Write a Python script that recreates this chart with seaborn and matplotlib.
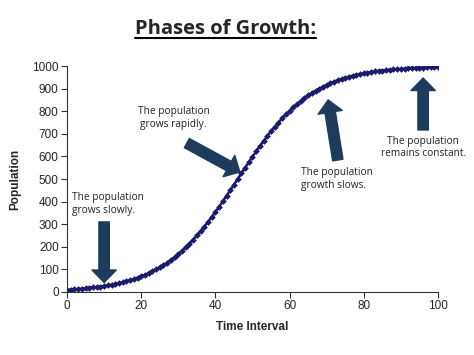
import matplotlib
matplotlib.use("Agg")
import matplotlib.pyplot as plt
import seaborn as sns
from matplotlib.lines import Line2D

# data
time = list(range(0, 101))
population = [
    10, 11, 12, 13, 15, 16, 18, 20, 22, 24,
    27, 29, 32, 36, 39, 43, 47, 52, 57, 63,
    69, 76, 83, 91, 100, 109, 119, 130, 142, 154,
    168, 182, 198, 214, 231, 250, 269, 289, 310, 332,
    354, 377, 401, 426, 450, 475, 500, 525, 550, 574,
    599, 622, 646, 668, 690, 711, 731, 750, 769, 786,
    802, 818, 832, 845, 858, 870, 881, 891, 900, 909,
    917, 924, 931, 937, 943, 948, 953, 957, 961, 964,
    968, 971, 973, 976, 978, 980, 982, 984, 985, 987,
    988, 989, 990, 991, 992, 993, 993, 994, 995, 995, 996,
]

# annotation labels and arrows (start -> tip, data coords)
labels = ["The population\ngrows slowly.", "The population\ngrows rapidly.",
          "The population\ngrowth slows.", "The population\nremains constant."]
label_pos = [(1.3, 442), (28.7, 822), (63, 552), (96, 692)]
label_ha = ["left", "center", "left", "center"]
arrow_start = [(10, 310), (32.3, 659), (73, 584), (96, 717)]
arrow_tip = [(10, 42), (46.6, 531), (70.4, 850), (96, 947)]

sns.set_style("ticks")
plt.rcParams["font.family"] = ["Liberation Sans", "DejaVu Sans"]

fig = plt.figure(figsize=(4.74, 3.55), dpi=100)
ax = fig.add_axes([0.1414, 0.1775, 0.7826, 0.6365])

navy = "#1b1b6b"
sns.lineplot(x=time, y=population, ax=ax, color=navy, marker="D",
             markersize=3.4, markeredgewidth=0, linewidth=1.8)

ax.set_xlim(0, 100)
ax.set_ylim(0, 1000)
ax.set_xticks(range(0, 101, 20))
ax.set_yticks(range(0, 1001, 100))
ax.tick_params(labelsize=8.5, length=4, width=0.8, color="#333333", pad=2)
for s in ["top", "right"]:
    ax.spines[s].set_visible(False)
for s in ["left", "bottom"]:
    ax.spines[s].set_color("#333333")
    ax.spines[s].set_linewidth(0.8)
ax.set_xlabel("Time Interval", fontsize=8.5, fontweight="bold", labelpad=6)
ax.set_ylabel("Population", fontsize=8.5, fontweight="bold", labelpad=8)

arrow_col = "#1f3b5c"
for s, t in zip(arrow_start, arrow_tip):
    ax.annotate("", xy=t, xytext=s,
                arrowprops=dict(arrowstyle="simple,head_length=0.9,head_width=1.75,tail_width=0.75",
                                mutation_scale=10, color=arrow_col,
                                shrinkA=0, shrinkB=0),
                annotation_clip=False)

for txt, (x, y), ha in zip(labels, label_pos, label_ha):
    ax.text(x, y, txt, ha=ha, va="top", fontsize=7.3, family="Open Sans",
            color="#222222", linespacing=1.2, clip_on=False)

title = fig.text(0.475, 0.918, "Phases of Growth:", ha="center", va="center",
                 fontsize=14.5, fontweight="bold", family="Open Sans")
fig.canvas.draw()
bb = title.get_window_extent()
fig.add_artist(Line2D([bb.x0 / fig.bbox.width, bb.x1 / fig.bbox.width],
                      [(bb.y0 + 1) / fig.bbox.height] * 2,
                      color="black", linewidth=1.5))

fig.savefig("out.png", dpi=100)
